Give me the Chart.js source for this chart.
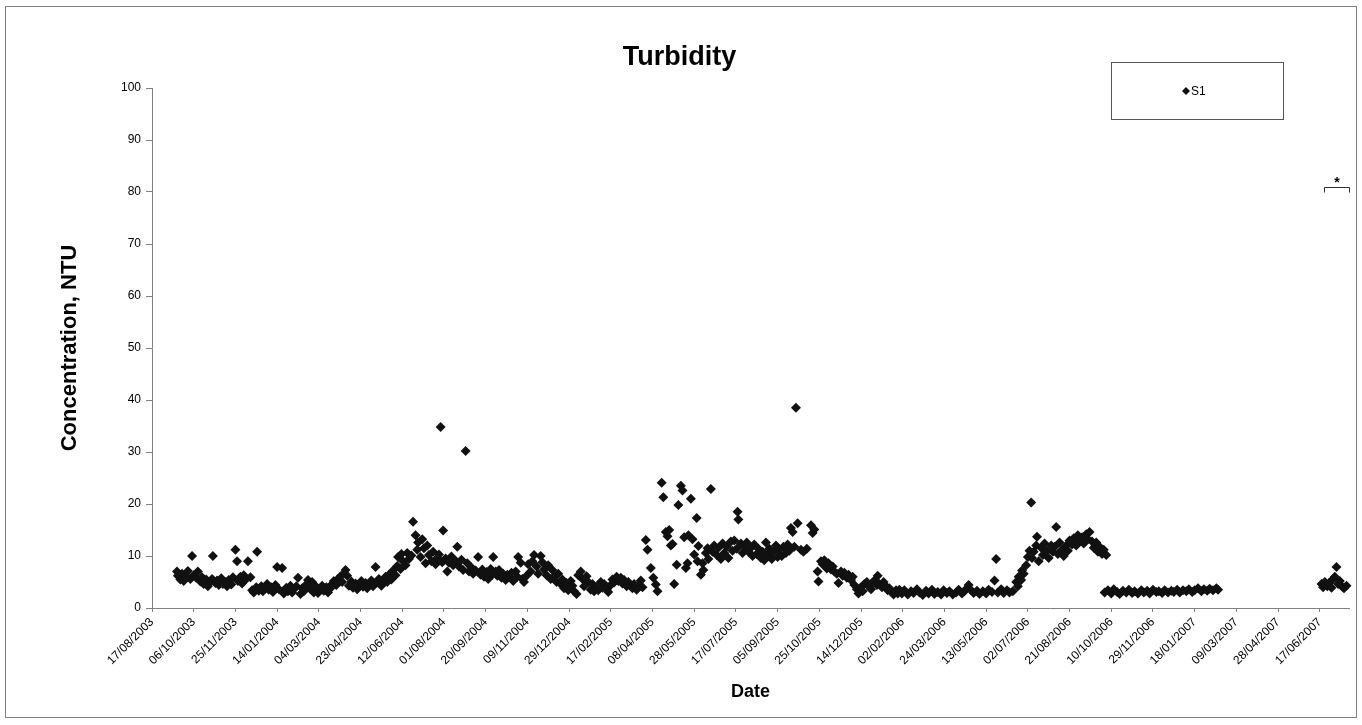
<!DOCTYPE html>
<html>
<head>
<meta charset="utf-8">
<title>Turbidity</title>
<script src="https://cdn.jsdelivr.net/npm/chart.js@4.4.1/dist/chart.umd.min.js"></script>
<style>
  html, body { margin: 0; padding: 0; background: #ffffff; }
  #wrap { width: 1362px; height: 725px; }
  canvas { display: block; }
</style>
</head>
<body>
<div id="wrap"><canvas id="chart" width="1362" height="725"></canvas></div>
<script>
// Sampling dates are stored as days elapsed since the first axis date.
const AXIS_START = Date.UTC(2003, 7, 17);   // 17/08/2003
const AXIS_END_DAY = 1435;
const TICK_STEP_DAYS = 50;

const SERIES_LABEL = 'S1';

const sampleDay = [
  30,31,34,36,38,41,43,46,48,50,
  53,55,58,60,62,65,67,70,72,73,
  76,78,80,83,85,88,90,92,95,97,
  100,102,103,106,108,110,113,115,118,120,
  122,125,126,128,131,133,136,138,140,143,
  145,148,150,152,156,158,161,163,166,168,
  170,173,175,178,180,182,185,187,190,192,
  194,197,199,202,204,206,209,211,214,216,
  218,221,223,226,228,230,232,234,236,239,
  241,244,246,248,251,253,256,
  258,260,263,265,268,270,272,275,277,280,
  282,284,287,289,292,294,295,298,299,301,
  304,306,308,311,313,316,318,319,322,324,
  326,328,330,332,335,337,340,342,344,346,
  348,349,352,354,356,359,361,364,366,368,
  371,373,376,378,380,383,385,388,391,394,
  396,398,401,403,406,408,409,412,414,416,
  419,421,424,426,428,431,433,436,438,439,
  442,444,446,449,
  451,454,456,458,461,463,466,468,470,473,
  475,478,480,482,485,487,490,492,494,497,
  499,502,504,506,509,511,514,516,518,521,
  523,526,528,530,533,535,538,540,542,545,
  547,550,552,554,557,559,562,564,566,569,
  571,574,576,578,581,583,586,588,592,594,
  598,601,604,606,611,613,616,618,620,622,
  624,626,629,631,634,636,638,640,642,643,
  646,648,650,653,654,655,658,660,661,664,
  666,667,670,672,674,677,679,682,684,686,
  689,691,694,696,698,701,702,703,706,708,
  710,713,715,718,720,722,725,727,730,732,
  734,736,738,740,743,745,748,750,752,755,
  757,760,762,764,766,768,770,772,774,778,
  781,785,790,792,794,798,799,802,804,806,
  809,811,814,816,818,821,823,826,828,830,
  833,835,838,840,842,845,847,850,852,854,
  857,859,862,864,866,869,870,872,875,877,
  880,882,884,887,889,892,894,896,
  899,902,906,910,913,917,920,924,928,931,
  935,938,942,946,949,953,956,960,964,967,
  971,974,977,979,982,985,989,992,996,1000,
  1003,1007,1010,1012,1014,1018,1021,1025,1028,1032,
  1036,1038,1039,1042,1043,1045,1048,1050,1052,1054,
  1055,1057,1060,1061,1063,1066,1068,1070,1073,1075,
  1078,1080,1082,1084,1086,1088,1091,1093,1096,1098,
  1100,1103,1105,1108,1110,1112,1115,1117,1120,1122,
  1124,1127,1129,1132,1134,1136,1139,1141,1144,
  1142,1146,1150,1153,1157,1160,1164,1168,1171,1175,
  1178,1182,1186,1189,1193,1196,1200,1204,1207,1211,
  1214,1218,1222,1225,1229,1232,1236,1240,1243,1247,
  1250,1254,1258,1261,1265,1268,1272,1276,1278,
  1402,1404,1406,1409,1411,1414,1416,1418,1420,1422,
  1424,1427,1429,1432
];

const turbidityNTU = [
  7.0,6.2,5.5,6.6,5.2,6.0,7.1,5.6,10.0,6.3,
  5.8,7.0,5.1,5.9,4.6,5.5,4.2,5.0,5.6,10.0,
  4.8,5.3,4.4,5.7,4.6,5.0,4.2,5.4,4.5,5.9,
  11.2,9.0,5.2,6.0,4.7,6.3,5.6,9.0,5.9,3.4,
  3.0,4.0,10.8,3.3,4.2,3.2,3.8,4.6,3.5,4.0,
  3.1,4.4,7.9,3.6,7.7,2.8,3.9,3.2,4.3,3.0,
  3.6,4.2,5.8,2.7,3.8,3.2,4.5,5.4,3.6,5.0,
  3.0,4.1,2.9,3.6,4.3,3.3,4.0,3.0,3.8,4.6,
  5.2,4.4,5.6,6.1,5.0,6.6,7.3,6.2,4.3,5.1,
  3.9,4.7,3.6,4.5,5.2,4.1,4.8,
  3.8,4.6,5.3,4.2,7.9,4.9,5.6,4.3,5.2,6.0,
  5.0,6.4,5.5,7.2,6.3,8.1,9.8,7.5,10.4,9.0,
  8.2,10.6,9.4,10.1,16.6,14.0,11.2,12.6,9.8,13.2,
  11.5,8.6,12.0,10.2,9.0,10.8,8.4,9.6,10.3,34.8,
  8.8,14.9,9.5,7.0,8.7,9.9,8.2,9.1,11.8,8.0,
  9.3,7.3,30.2,8.6,7.0,7.8,6.6,7.2,9.8,6.4,
  7.4,6.0,6.9,5.6,7.5,6.4,9.8,7.0,6.2,7.3,
  5.8,6.6,5.4,6.4,5.9,6.8,5.2,7.0,6.0,9.8,
  8.7,5.6,5.0,6.2,
  8.4,7.0,9.0,10.2,8.0,6.6,10.0,8.8,7.4,6.3,
  8.2,5.6,7.3,6.0,5.0,6.6,4.6,5.5,3.8,4.8,
  3.4,5.2,4.3,3.2,2.7,6.3,7.0,5.6,4.2,6.1,
  5.0,3.5,4.6,3.2,4.0,3.4,5.0,3.9,4.6,3.6,
  3.1,4.4,5.5,4.9,6.0,5.2,5.8,4.7,5.4,4.2,
  5.0,4.3,3.8,4.6,3.5,4.2,5.3,4.0,13.1,11.2,
  7.7,5.8,4.5,3.2,24.1,21.3,14.6,13.8,15.0,12.0,
  12.3,4.6,8.3,19.8,23.5,22.6,13.6,7.7,8.6,14.0,
  21.0,13.2,10.3,17.3,9.0,11.9,6.4,8.6,7.3,10.6,
  11.5,9.4,22.9,10.8,12.0,10.2,11.6,9.4,12.4,10.6,
  11.8,9.6,12.8,11.0,13.0,11.4,18.5,17.0,12.4,10.6,
  11.8,12.6,10.8,11.6,10.0,12.2,10.4,11.4,9.6,10.8,
  9.2,12.6,10.2,11.4,9.4,10.8,12.0,9.8,11.2,10.0,
  11.8,10.6,12.2,11.0,15.4,14.6,11.8,38.5,16.3,11.2,
  10.8,11.4,15.9,14.4,15.1,7.0,5.1,9.0,8.4,9.2,
  7.6,8.6,7.4,8.0,7.0,6.6,4.8,7.0,6.2,6.8,
  5.8,6.4,5.4,6.0,4.4,3.6,2.8,4.0,3.2,4.6,
  5.0,4.2,3.6,4.8,5.3,4.4,6.2,4.6,4.0,5.0,
  4.2,3.4,3.8,3.0,2.6,3.4,2.8,3.5,
  2.8,3.4,2.6,3.2,2.9,3.6,3.0,2.5,3.3,2.8,
  3.5,2.7,3.1,2.6,3.4,2.9,3.2,2.6,3.0,3.5,
  2.8,3.2,3.8,4.4,3.4,2.9,3.3,2.7,3.2,2.8,
  3.5,3.1,5.3,9.4,3.0,3.6,2.9,3.4,3.0,3.2,
  5.0,4.2,6.0,5.4,7.2,6.6,8.2,9.8,11.0,20.3,
  9.6,10.8,12.0,13.7,9.0,11.6,10.2,12.4,11.0,9.6,
  12.0,10.8,11.8,15.6,10.4,12.6,11.2,10.0,12.0,11.0,
  13.0,12.2,13.4,12.0,14.0,12.8,13.6,12.4,14.2,13.2,
  14.6,12.8,11.6,12.6,10.8,11.8,10.4,11.2,10.2,
  3.0,3.4,2.8,3.6,3.1,2.7,3.3,3.0,3.5,2.9,
  3.2,2.8,3.4,3.0,3.3,2.8,3.5,3.1,3.2,2.9,
  3.4,3.0,3.3,3.1,3.5,3.0,3.4,3.2,3.6,3.1,
  3.4,3.8,3.2,3.6,3.3,3.7,3.4,3.8,3.5,
  4.6,4.0,5.0,4.2,4.8,3.9,5.6,6.0,7.9,4.6,
  5.2,4.1,3.8,4.3
];

// Bracketed note over the last sampling run
const NOTE_TEXT = '*';
const NOTE_FROM_DAY = 1405;
const NOTE_TO_DAY = 1435;
const NOTE_LEVEL = 81;

const FONT = "'Liberation Sans', Arial, Helvetica, sans-serif";

function dayLabel(offset) {
  const d = new Date(AXIS_START + offset * 86400000);
  const dd = String(d.getUTCDate()).padStart(2, '0');
  const mm = String(d.getUTCMonth() + 1).padStart(2, '0');
  return dd + '/' + mm + '/' + d.getUTCFullYear();
}

const points = sampleDay.map((day, i) => ({ x: day, y: turbidityNTU[i] }));

const framePlugin = {
  id: 'frame',
  beforeDraw(chart) {
    const { ctx, width, height } = chart;
    ctx.save();
    ctx.fillStyle = '#ffffff';
    ctx.fillRect(0, 0, width, height);
    ctx.strokeStyle = '#808080';
    ctx.lineWidth = 1;
    ctx.strokeRect(5.5, 6.5, width - 11, height - 14);
    ctx.restore();
  },
  afterDraw(chart) {
    const { ctx } = chart;
    const xs = chart.scales.x, ys = chart.scales.y;
    ctx.save();

    // legend box
    ctx.strokeStyle = '#555555';
    ctx.lineWidth = 1;
    ctx.strokeRect(1111.5, 62.5, 172, 57);
    const lx = 1186, ly = 91, r = 4;
    ctx.fillStyle = '#111111';
    ctx.beginPath();
    ctx.moveTo(lx, ly - r); ctx.lineTo(lx + r, ly); ctx.lineTo(lx, ly + r); ctx.lineTo(lx - r, ly);
    ctx.closePath();
    ctx.fill();
    ctx.fillStyle = '#000000';
    ctx.font = '12px ' + FONT;
    ctx.textAlign = 'left';
    ctx.textBaseline = 'middle';
    ctx.fillText(chart.data.datasets[0].label, 1191, 91.5);

    // bracket with note mark
    const x1 = Math.round(xs.getPixelForValue(NOTE_FROM_DAY)) + 0.5;
    const x2 = Math.round(xs.getPixelForValue(NOTE_TO_DAY)) + 0.5;
    const yb = Math.round(ys.getPixelForValue(NOTE_LEVEL)) + 0.5;
    ctx.strokeStyle = '#333333';
    ctx.beginPath();
    ctx.moveTo(x1, yb + 5); ctx.lineTo(x1, yb); ctx.lineTo(x2, yb); ctx.lineTo(x2, yb + 5);
    ctx.stroke();
    ctx.fillStyle = '#000000';
    ctx.font = 'bold 14px ' + FONT;
    ctx.textAlign = 'center';
    ctx.textBaseline = 'alphabetic';
    ctx.fillText(NOTE_TEXT, (x1 + x2) / 2, yb - 1);
    ctx.restore();
  }
};

new Chart(document.getElementById('chart'), {
  type: 'scatter',
  data: {
    datasets: [{
      label: SERIES_LABEL,
      data: points,
      pointStyle: 'rectRot',
      pointRadius: 5,
      pointBorderWidth: 0,
      backgroundColor: '#111111',
      borderColor: '#111111',
      clip: false
    }]
  },
  options: {
    responsive: false,
    animation: false,
    devicePixelRatio: 1,
    layout: { padding: { left: 10, right: 13, top: 8, bottom: 18 } },
    plugins: {
      legend: { display: false },
      tooltip: { enabled: false },
      title: {
        display: true,
        text: 'Turbidity',
        color: '#000000',
        font: { family: FONT, size: 27, weight: 'bold', lineHeight: 1.2 },
        padding: { top: 33.8, bottom: 13.8 }
      }
    },
    scales: {
      x: {
        type: 'linear',
        min: 0,
        max: AXIS_END_DAY,
        afterFit(scale) { scale.height = 99; },
        border: { display: true, color: '#808080', width: 1 },
        grid: { drawOnChartArea: false, drawTicks: true, tickLength: 4, color: '#808080' },
        ticks: {
          stepSize: TICK_STEP_DAYS,
          includeBounds: false,
          autoSkip: false,
          minRotation: 45,
          maxRotation: 45,
          padding: 3,
          color: '#000000',
          font: { family: FONT, size: 12 },
          callback: (value) => dayLabel(value)
        },
        title: {
          display: true,
          text: 'Date',
          color: '#000000',
          font: { family: FONT, size: 18, weight: 'bold', lineHeight: 1.2 },
          padding: { top: 0, bottom: 4 }
        }
      },
      y: {
        min: 0,
        max: 100,
        afterFit(scale) { scale.width = 142; },
        border: { display: true, color: '#808080', width: 1 },
        grid: { drawOnChartArea: false, drawTicks: true, tickLength: 6, color: '#808080' },
        ticks: {
          stepSize: 10,
          padding: 5,
          color: '#000000',
          font: { family: FONT, size: 12 }
        },
        title: {
          display: true,
          text: 'Concentration, NTU',
          color: '#000000',
          font: { family: FONT, size: 22, weight: 'bold', lineHeight: 1.2 },
          padding: { top: 46.8, bottom: 0 }
        }
      }
    }
  },
  plugins: [framePlugin]
});
</script>
</body>
</html>
